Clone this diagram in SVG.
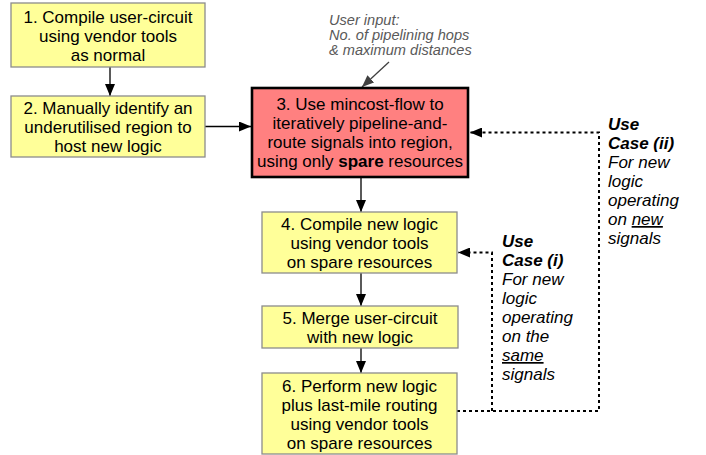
<svg xmlns="http://www.w3.org/2000/svg" width="706" height="455" viewBox="0 0 706 455">
<style>
text{font-family:"Liberation Sans",Arial,sans-serif;font-size:17px;fill:#000}
.c{text-anchor:middle}
.yb{fill:#ffff99;stroke:#8c8c8c;stroke-width:1.3}
.rb{fill:#ff8080;stroke:#000;stroke-width:2.6}
.ln{stroke:#000;stroke-width:1.3;fill:none}
.dt{stroke:#000;stroke-width:2;fill:none;stroke-dasharray:3 3}
.gi{font-style:italic;fill:#595959;font-size:14.6px}
.it{font-style:italic}
.bi{font-style:italic;font-weight:bold}
</style>
<defs>
<marker id="ah" markerWidth="12" markerHeight="10" refX="12" refY="5" orient="auto" markerUnits="userSpaceOnUse">
<path d="M0,0 L12,5 L0,10 Z" fill="#000"/>
</marker>
<marker id="ag" markerWidth="12" markerHeight="10" refX="12" refY="5" orient="auto" markerUnits="userSpaceOnUse">
<path d="M0,0 L12,5 L0,10 Z" fill="#404040"/>
</marker>
</defs>
<g id="connectors">
<line class="ln" x1="110" y1="67" x2="110" y2="96" marker-end="url(#ah)"/>
<line class="ln" x1="205" y1="126.5" x2="251" y2="126.5" marker-end="url(#ah)"/>
<line class="ln" x1="361" y1="177" x2="361" y2="212" marker-end="url(#ah)"/>
<line class="ln" x1="361" y1="273" x2="361" y2="306" marker-end="url(#ah)"/>
<line class="ln" x1="361" y1="348" x2="361" y2="373" marker-end="url(#ah)"/>
<line x1="389" y1="62" x2="362" y2="87" stroke="#404040" stroke-width="1.3" marker-end="url(#ag)"/>
<path class="dt" d="M457,411 H599 V132.5 H470" marker-end="url(#ah)"/>
<path class="dt" d="M492,411 V252.5 H458" marker-end="url(#ah)"/>
</g>
<g id="n1">
<rect class="yb" x="11" y="3" width="194" height="64"/>
<text class="c" x="108" y="22.5">1. Compile user-circuit</text>
<text class="c" x="108" y="41.5">using vendor tools</text>
<text class="c" x="108" y="60.5">as normal</text>
</g>
<g id="n2">
<rect class="yb" x="11" y="96" width="194" height="61"/>
<text class="c" x="108" y="113.5">2. Manually identify an</text>
<text class="c" x="108" y="132.5">underutilised region to</text>
<text class="c" x="108" y="151.5">host new logic</text>
</g>
<g id="n3">
<rect class="rb" x="252" y="88" width="216" height="89"/>
<text class="c" x="360" y="110">3. Use mincost-flow to</text>
<text class="c" x="360" y="129">iteratively pipeline-and-</text>
<text class="c" x="360" y="148">route signals into region,</text>
<text class="c" x="360" y="167">using only <tspan font-weight="bold">spare</tspan> resources</text>
</g>
<g id="user-input">
<text class="gi" x="329" y="25">User input:</text>
<text class="gi" x="329" y="40">No. of pipelining hops</text>
<text class="gi" x="329" y="55">&amp; maximum distances</text>
</g>
<g id="n4">
<rect class="yb" x="262" y="212" width="195" height="61"/>
<text class="c" x="359.5" y="229.5">4. Compile new logic</text>
<text class="c" x="359.5" y="248.5">using vendor tools</text>
<text class="c" x="359.5" y="267.5">on spare resources</text>
</g>
<g id="n5">
<rect class="yb" x="262" y="306" width="196" height="42"/>
<text class="c" x="360" y="324">5. Merge user-circuit</text>
<text class="c" x="360" y="343">with new logic</text>
</g>
<g id="n6">
<rect class="yb" x="262" y="373" width="195" height="81"/>
<text class="c" x="359.5" y="391.5">6. Perform new logic</text>
<text class="c" x="359.5" y="410.5">plus last-mile routing</text>
<text class="c" x="359.5" y="429.5">using vendor tools</text>
<text class="c" x="359.5" y="448.5">on spare resources</text>
</g>
<g id="use-case-ii">
<text class="bi" x="608" y="130">Use</text>
<text class="bi" x="608" y="149">Case (ii)</text>
<text class="it" x="608" y="168">For new</text>
<text class="it" x="608" y="187">logic</text>
<text class="it" x="608" y="206">operating</text>
<text class="it" x="608" y="225">on <tspan text-decoration="underline">new</tspan></text>
<text class="it" x="608" y="244">signals</text>
</g>
<g id="use-case-i">
<text class="bi" x="502" y="247">Use</text>
<text class="bi" x="502" y="266">Case (i)</text>
<text class="it" x="502" y="285">For new</text>
<text class="it" x="502" y="304">logic</text>
<text class="it" x="502" y="323">operating</text>
<text class="it" x="502" y="342">on the</text>
<text class="it" x="502" y="361"><tspan text-decoration="underline">same</tspan></text>
<text class="it" x="502" y="380">signals</text>
</g>
</svg>
